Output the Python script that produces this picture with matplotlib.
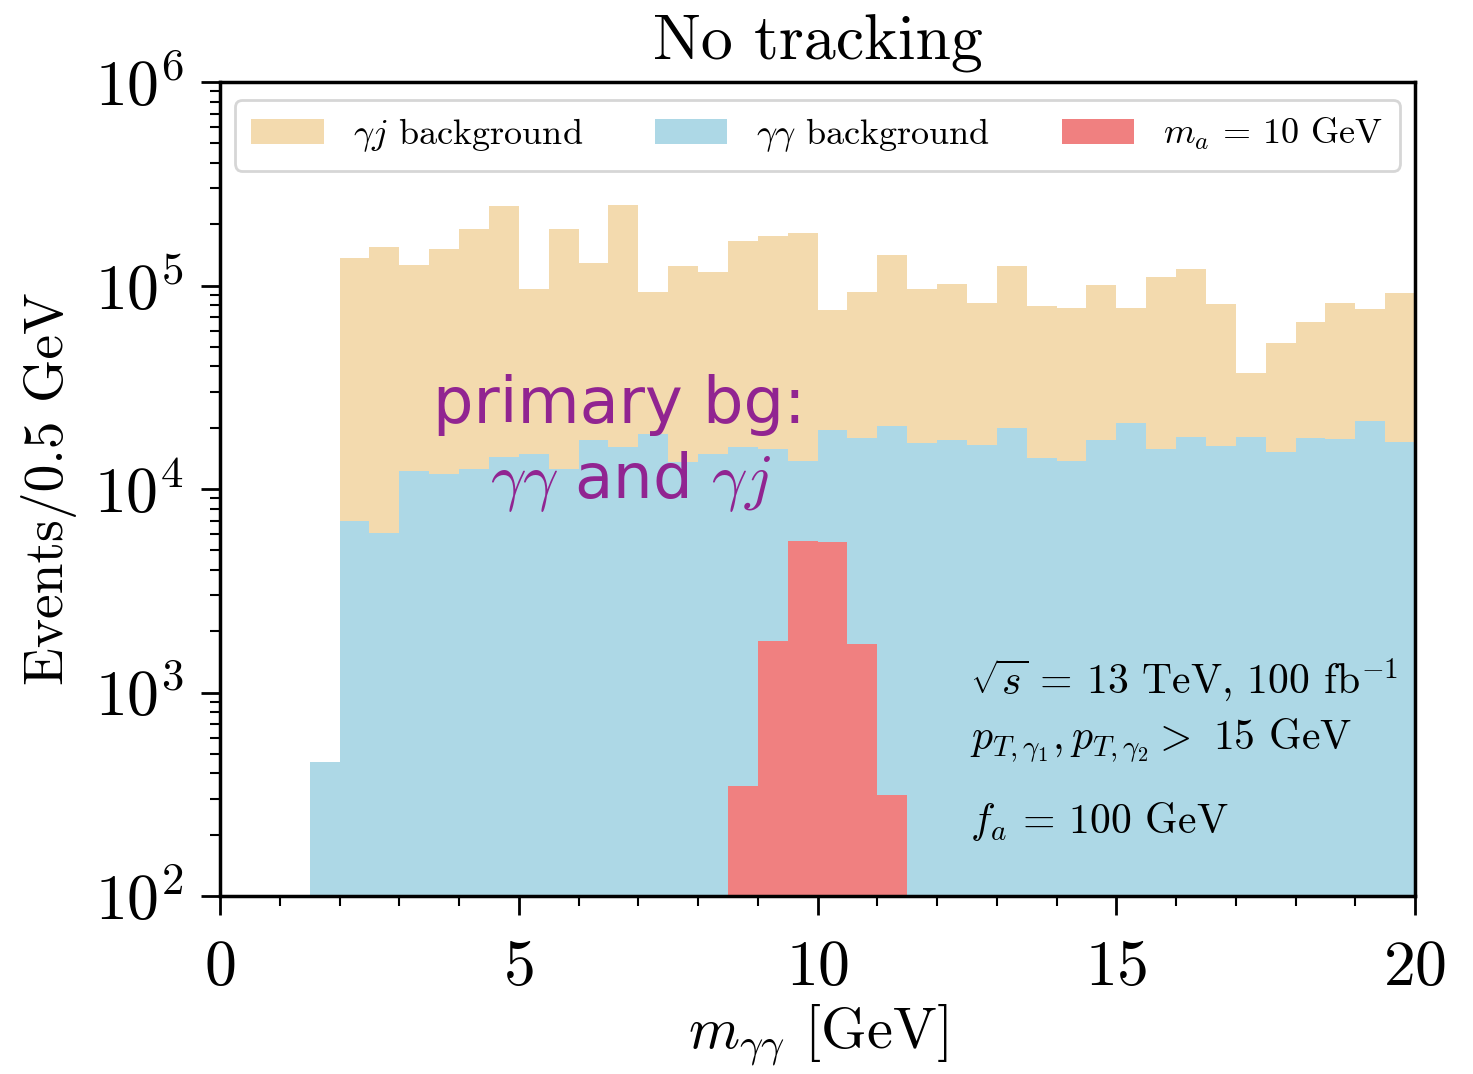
import numpy as np
import matplotlib
matplotlib.use("Agg")
import matplotlib.pyplot as plt
from matplotlib.ticker import MultipleLocator, LogLocator

plt.rcParams['font.family'] = ['cmr10', 'DejaVu Serif']
plt.rcParams['mathtext.fontset'] = 'cm'
plt.rcParams['axes.unicode_minus'] = False
plt.rcParams['axes.formatter.use_mathtext'] = True

# gamma-gamma background, bins of 0.5 GeV starting at 1.5 GeV
gg_left = np.arange(1.5, 20.0, 0.5)
gg_vals = [454, 7000, 6100, 12200, 11900, 12600, 14400, 14800, 12600, 17400,
           16000, 18600, 13500, 14800, 16000, 15700, 13800, 19500, 17900, 20500,
           16800, 17400, 16400, 20000, 14200, 13800, 17500, 21100, 15800, 18000,
           16300, 18100, 15200, 17900, 17600, 21700, 17000]

# gamma-jet background (stacked on gamma-gamma), bins starting at 2.0 GeV
gj_left = np.arange(2.0, 20.0, 0.5)
gj_vals = [129000, 149000, 114000, 140000, 177000, 232000, 81000, 176000, 112000, 233000,
           74000, 111000, 102000, 149000, 160000, 167000, 56500, 75000, 120000, 79000,
           84000, 66000, 104000, 65000, 64000, 83000, 56000, 94000, 103000, 65000,
           19000, 37000, 48000, 64000, 55000, 75000]

# signal m_a = 10 GeV
sig_left = np.arange(8.5, 11.5, 0.5)
sig_vals = [348, 1790, 5570, 5510, 1725, 315]

width = 0.5
c_gj = '#F3DAAE'
c_gg = '#ADD8E6'
c_sig = '#F08080'

fig = plt.figure(figsize=(14.73, 10.74), dpi=100)
ax = fig.add_axes([220/1473, 1 - 896/1074, 1195/1473, 814/1074])

gg_arr = np.array(gg_vals, dtype=float)
gg_under_gj = gg_arr[1:]
ax.bar(gj_left, gj_vals, width=width, bottom=gg_under_gj, align='edge',
       color=c_gj, linewidth=0, label=r'$\gamma j$ background')
ax.bar(gg_left, gg_vals, width=width, align='edge', color=c_gg, linewidth=0,
       label=r'$\gamma\gamma$ background')
ax.bar(sig_left, sig_vals, width=width, align='edge', color=c_sig, linewidth=0,
       label=r'$m_a$ = 10 GeV')

ax.set_yscale('log')
ax.set_xlim(0, 20)
ax.set_ylim(1e2, 1e6)

ax.xaxis.set_major_locator(MultipleLocator(5))
ax.xaxis.set_minor_locator(MultipleLocator(1))
ax.yaxis.set_major_locator(LogLocator(base=10, numticks=10))
ax.yaxis.set_minor_locator(LogLocator(base=10, subs=np.arange(2, 10), numticks=20))

ax.tick_params(axis='both', which='major', direction='out', length=14, width=2,
               labelsize=46)
ax.tick_params(axis='x', which='major', pad=18)
ax.tick_params(axis='y', which='major', pad=12)
ax.tick_params(axis='both', which='minor', direction='out', length=7, width=1.5)
for s in ax.spines.values():
    s.set_linewidth(2.5)

ax.set_title('No tracking', fontsize=46, pad=16)
ax.set_xlabel(r'$m_{\gamma\gamma}$ [GeV]', fontsize=42, labelpad=3)
ax.set_ylabel('Events/0.5 GeV', fontsize=40, labelpad=12)

leg = ax.legend(loc='upper center', ncol=3, fontsize=26, frameon=True, fancybox=True,
                handlelength=2.0, handleheight=0.7, columnspacing=2.0,
                borderaxespad=0.5, borderpad=0.45, handletextpad=0.8,
                bbox_to_anchor=(0.5, 1.0))
leg.get_frame().set_edgecolor('#cccccc')
leg.get_frame().set_linewidth(2)

ax.text(0.628, 0.265, r'$\sqrt{s}$ = 13 TeV, 100 fb$^{-1}$',
        transform=ax.transAxes, fontsize=30, va='center', ha='left')
ax.text(0.628, 0.192, r'$p_{T,\gamma_1}, p_{T,\gamma_2} >$ 15 GeV',
        transform=ax.transAxes, fontsize=30, va='center', ha='left')
ax.text(0.628, 0.091, r'$f_a$ = 100 GeV', transform=ax.transAxes,
        fontsize=30, va='center', ha='left')

purple = '#912491'
ax.text(0.178, 0.603, 'primary bg:', transform=ax.transAxes, fontsize=46,
        family='DejaVu Sans', color=purple, va='center', ha='left')
ax.text(0.226, 0.509, r'$\gamma\gamma$ and $\gamma j$', transform=ax.transAxes, fontsize=45,
        family='DejaVu Sans', color=purple, va='center', ha='left')

fig.savefig('out.png', dpi=100)
